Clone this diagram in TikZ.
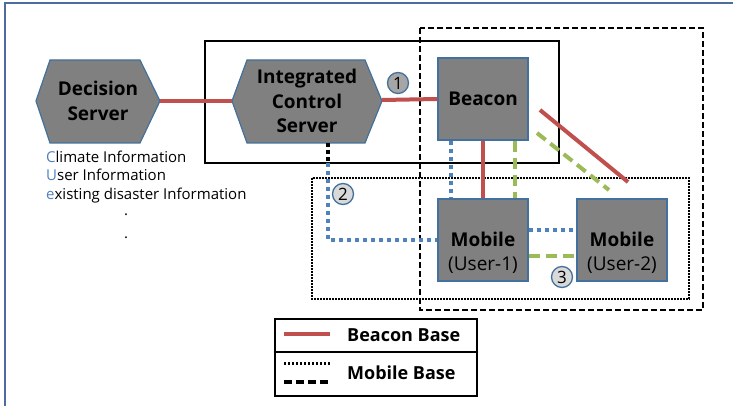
\documentclass[tikz,border=0pt]{standalone}
\usepackage{fontspec}
\setmainfont{Open Sans}
\usetikzlibrary{calc}
\definecolor{boxgray}{RGB}{128,128,128}
\definecolor{edgeblue}{RGB}{65,113,156}
\definecolor{linkred}{RGB}{192,80,77}
\definecolor{linkgreen}{RGB}{155,187,89}
\definecolor{linkblue}{RGB}{79,129,189}
\definecolor{framblue}{RGB}{79,108,160}
\definecolor{badgedark}{RGB}{166,166,166}
\definecolor{badgelight}{RGB}{217,217,217}
\begin{document}
\begin{tikzpicture}[x=1pt,y=-1pt,
  unitbox/.style={draw=edgeblue,line width=1.2pt,fill=boxgray,minimum width=90pt,minimum height=82pt,inner sep=0pt,align=center,font=\fontsize{19}{24}\selectfont},
  hexfill/.style={draw=edgeblue,line width=1.2pt,fill=boxgray},
  hexlabel/.style={align=center,inner sep=0pt,font=\fontsize{19}{24.5}\selectfont\bfseries},
  badge/.style={circle,draw=edgeblue,line width=1.3pt,minimum size=21pt,inner sep=0pt,font=\fontsize{17}{17}\selectfont},
  redlink/.style={draw=linkred,line width=4pt},
  greenlink/.style={draw=linkgreen,line width=4pt,dash pattern=on 11pt off 6pt},
  bluelink/.style={draw=linkblue,line width=4pt,dash pattern=on 4pt off 4pt},
  groupsolid/.style={draw=black,line width=1.8pt},
  groupdashed/.style={draw=black,line width=1.8pt,dash pattern=on 6pt off 3pt},
  groupdotted/.style={draw=black,line width=1.8pt,dash pattern=on 1.6pt off 1.4pt},
  infotext/.style={anchor=west,inner sep=0pt,font=\fontsize{15}{18.5}\selectfont,align=left},
  legendtext/.style={anchor=west,inner sep=0pt,font=\fontsize{18}{18}\selectfont\bfseries}
]
\useasboundingbox (0,0) rectangle (733,406);

% page frame (top and left edges)
\draw[framblue,line width=2pt] (5,406) -- (5,3) -- (733,3);

% grouping frames
\draw[groupsolid] (205,41) rectangle (559,163);
\draw[groupdashed] (420,28) rectangle (703,310);
\draw[groupdotted] (312,178) rectangle (689,299);

% hexagonal servers
\draw[hexfill] (36,101) -- (50,60) -- (140,60) -- (160,101) -- (140,143) -- (50,143) -- cycle;
\node[hexlabel] (decision) at (98,101) {Decision\\Server};
\coordinate (decision-e) at (160,101);

\draw[hexfill] (232,101) -- (247,60) -- (365,60) -- (382,101) -- (365,143) -- (247,143) -- cycle;
\node[hexlabel] (control) at (307,101) {Integrated\\Control\\Server};
\coordinate (control-w) at (232,101);
\coordinate (control-e) at (382,100);
\coordinate (control-s) at (328,143);
\coordinate (control-mid) at (328,163);
\coordinate (control-turn) at (328,240);

% beacon and mobiles
\node[unitbox,font=\fontsize{19}{22}\selectfont\bfseries] (beacon) at (483,99) {Beacon};
\node[unitbox] (mob1) at (483,240) {};
\node[unitbox] (mob2) at (622,240) {};
\node[align=center,inner sep=0pt,font=\fontsize{19}{24}\selectfont] (mob1txt) at (483,253) {\textbf{Mobile}\\(User-1)};
\node[align=center,inner sep=0pt,font=\fontsize{19}{24}\selectfont] (mob2txt) at (622,253) {\textbf{Mobile}\\(User-2)};

% beacon base links
\draw[redlink] (decision-e) -- (control-w);
\draw[redlink] (control-e) -- (beacon.west);
\draw[redlink] (beacon.south) -- (mob1.north);
\coordinate (diagR1) at (540,110);
\coordinate (diagR2) at (628,182);
\draw[redlink] (diagR1) -- (diagR2);

% mobile base links
\draw[bluelink] ($(beacon.south west)+(14,0)$) -- ($(mob1.north west)+(14,0)$);
\draw[greenlink] ($(beacon.south east)+(-14,0)$) -- ($(mob1.north east)+(-14,0)$);
\coordinate (diagG1) at (537,133);
\coordinate (diagG2) at (609,190);
\draw[greenlink] (diagG1) -- (diagG2);
\draw[bluelink] ($(mob1.east)+(0,-10)$) -- ($(mob2.west)+(0,-10)$);
\draw[greenlink] ($(mob1.east)+(0,16)$) -- ($(mob2.west)+(0,16)$);
\draw[black,line width=4pt,dash pattern=on 4pt off 3pt] (control-s) -- (control-mid);
\draw[bluelink] (control-mid) -- (control-turn) -- (mob1.west);

% numbered badges
\node[badge,fill=badgedark] (b1) at (398,83) {1};
\node[badge,fill=badgelight] (b2) at (343,194) {2};
\node[badge,fill=badgelight] (b3) at (562,277) {3};

% information handled by the decision server
\node[infotext] (info) at (46,177) {\textcolor{linkblue}{C}limate Information\\\textcolor{linkblue}{U}ser Information\\\textcolor{linkblue}{e}xisting disaster Information};
\node[inner sep=0pt,font=\fontsize{15}{15}\selectfont] (dot1) at (126,215) {.};
\node[inner sep=0pt,font=\fontsize{15}{15}\selectfont] (dot2) at (126,238) {.};

% legend
\node[draw=black,line width=1.8pt,minimum width=202pt,minimum height=33pt,inner sep=0pt] (leg1) at (376,335.5) {};
\node[draw=black,line width=1.8pt,minimum width=202pt,minimum height=44pt,inner sep=0pt] (leg2) at (376,374) {};
\coordinate (lr1) at (284,334);
\coordinate (lr2) at (330,334);
\draw[redlink] (lr1) -- (lr2);
\coordinate (ld1) at (284,363);
\coordinate (ld2) at (330,363);
\draw[black,line width=3pt,dash pattern=on 2.2pt off 1.8pt] (ld1) -- (ld2);
\coordinate (lh1) at (284,382);
\coordinate (lh2) at (330,382);
\draw[black,line width=3.5pt,dash pattern=on 8pt off 4pt] (lh1) -- (lh2);
\node[legendtext] (legbeacon) at (347,335) {Beacon Base};
\node[legendtext] (legmobile) at (347,373) {Mobile Base};
\end{tikzpicture}
\end{document}
